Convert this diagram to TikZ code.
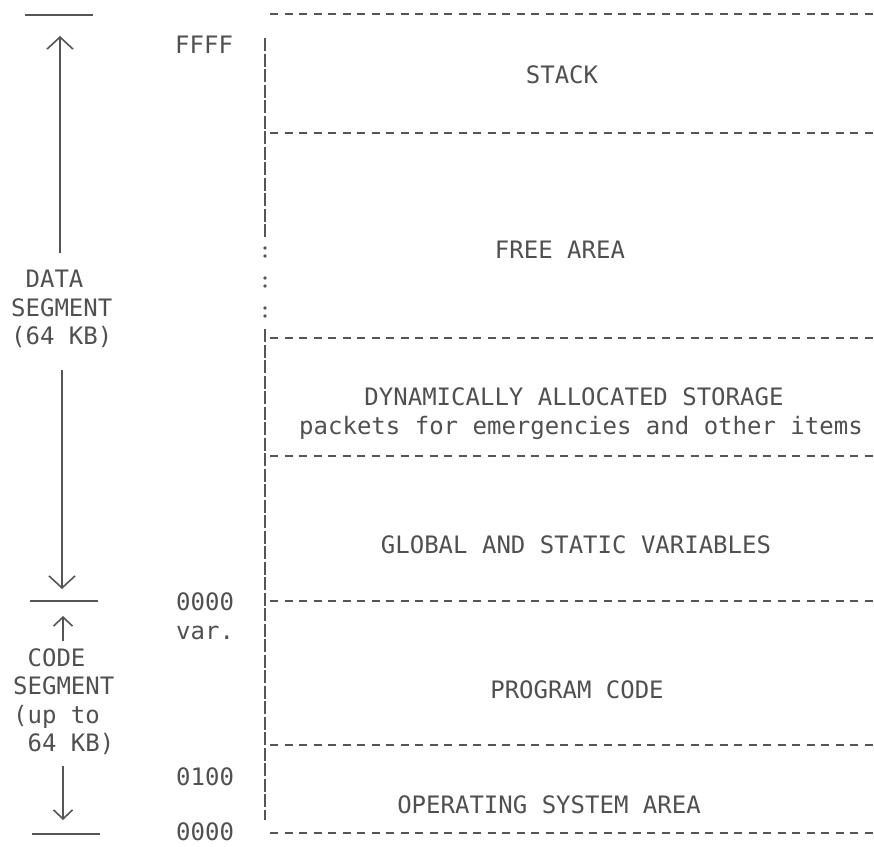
\documentclass[tikz,border=0pt]{standalone}
\usepackage{fontspec}
\newfontfamily\tw{DejaVu Sans Mono}
\usetikzlibrary{arrows.meta}
\definecolor{ink}{HTML}{505050}
\definecolor{lin}{HTML}{555555}
\tikzset{
  lbl/.style={text=ink, font=\tw\fontsize{24}{28.5}\selectfont, inner sep=0pt},
  addr/.style={lbl, anchor=west},
  seglbl/.style={lbl, align=left, anchor=north west},
  bar/.style={draw=lin, line width=2.6pt},
  divider/.style={draw=lin, line width=2pt, dash pattern=on 8pt off 6.5pt},
  wall/.style={draw=lin, line width=2.2pt, dash pattern=on 13pt off 2.5pt},
  bigarrow/.style={draw=lin, line width=1.4pt, -{Straight Barb[length=12pt,width=26pt,line width=1.6pt]}},
  smallarrow/.style={draw=lin, line width=1.4pt, -{Straight Barb[length=9pt,width=19pt,line width=1.6pt]}},
}
\begin{document}
\begin{tikzpicture}[x=1pt,y=-1pt]
\useasboundingbox (0,0) rectangle (874,846);
% solid bars at left
\draw[bar] (25,15) coordinate (bt1) -- (93,15) coordinate (bt2);
\draw[bar] (30,601) coordinate (bm1) -- (98,601) coordinate (bm2);
\draw[bar] (32,834) coordinate (bb1) -- (100,834) coordinate (bb2);
% segment labels
\node[seglbl] (data) at (11,270) {\hphantom{0}DATA\\SEGMENT\\(64 KB)};
\node[seglbl] (code) at (13,648) {\hphantom{0}CODE\\SEGMENT\\(up to\\\hphantom{0}64 KB)};
% arrows
\coordinate (da1) at (60,253);
\coordinate (da2) at (60,36);
\coordinate (db1) at (62,370);
\coordinate (db2) at (62,589);
\coordinate (ca1) at (63,641);
\coordinate (ca2) at (63,616);
\coordinate (cb1) at (63,766);
\coordinate (cb2) at (63,820);
\draw[bigarrow] (da1) -- (da2);
\draw[bigarrow] (db1) -- (db2);
\draw[smallarrow] (ca1) -- (ca2);
\draw[smallarrow] (cb1) -- (cb2);
% addresses
\node[addr] (aFFFF) at (175,45) {FFFF};
\node[addr] (a0000d) at (176,602) {0000};
\node[addr] (avar) at (176,633) {var.};
\node[addr] (a0100) at (176,777) {0100};
\node[addr] (a0000) at (176,832) {0000};
% vertical wall
\coordinate (w1) at (265,38);
\coordinate (w2) at (265,238);
\coordinate (w3) at (265,329);
\coordinate (w4) at (265,820);
\draw[wall] (w1) -- (w2);
\draw[wall] (w3) -- (w4);
\foreach \y in {248,256,278,286,308,316}
  \fill[lin] (265,\y) circle (1.8pt);
% dividers
\foreach \y/\n in {14/d0,133/d1,338/d2,456/d3,601/d4,745/d5,833/d6}{
  \coordinate (\n a) at (270,\y);
  \coordinate (\n b) at (874,\y);
  \draw[divider] (\n a) -- (\n b);
}
% region labels
\node[lbl] (stack) at (562,75) {STACK};
\node[lbl] (free) at (560,250) {FREE AREA};
\node[lbl] (dyn) at (574,397) {DYNAMICALLY ALLOCATED STORAGE};
\node[lbl] (pack) at (581,428) {packets for emergencies and other items};
\node[lbl] (glob) at (576,545) {GLOBAL AND STATIC VARIABLES};
\node[lbl] (prog) at (577,690) {PROGRAM CODE};
\node[lbl] (os) at (549,805) {OPERATING SYSTEM AREA};
\end{tikzpicture}
\end{document}
